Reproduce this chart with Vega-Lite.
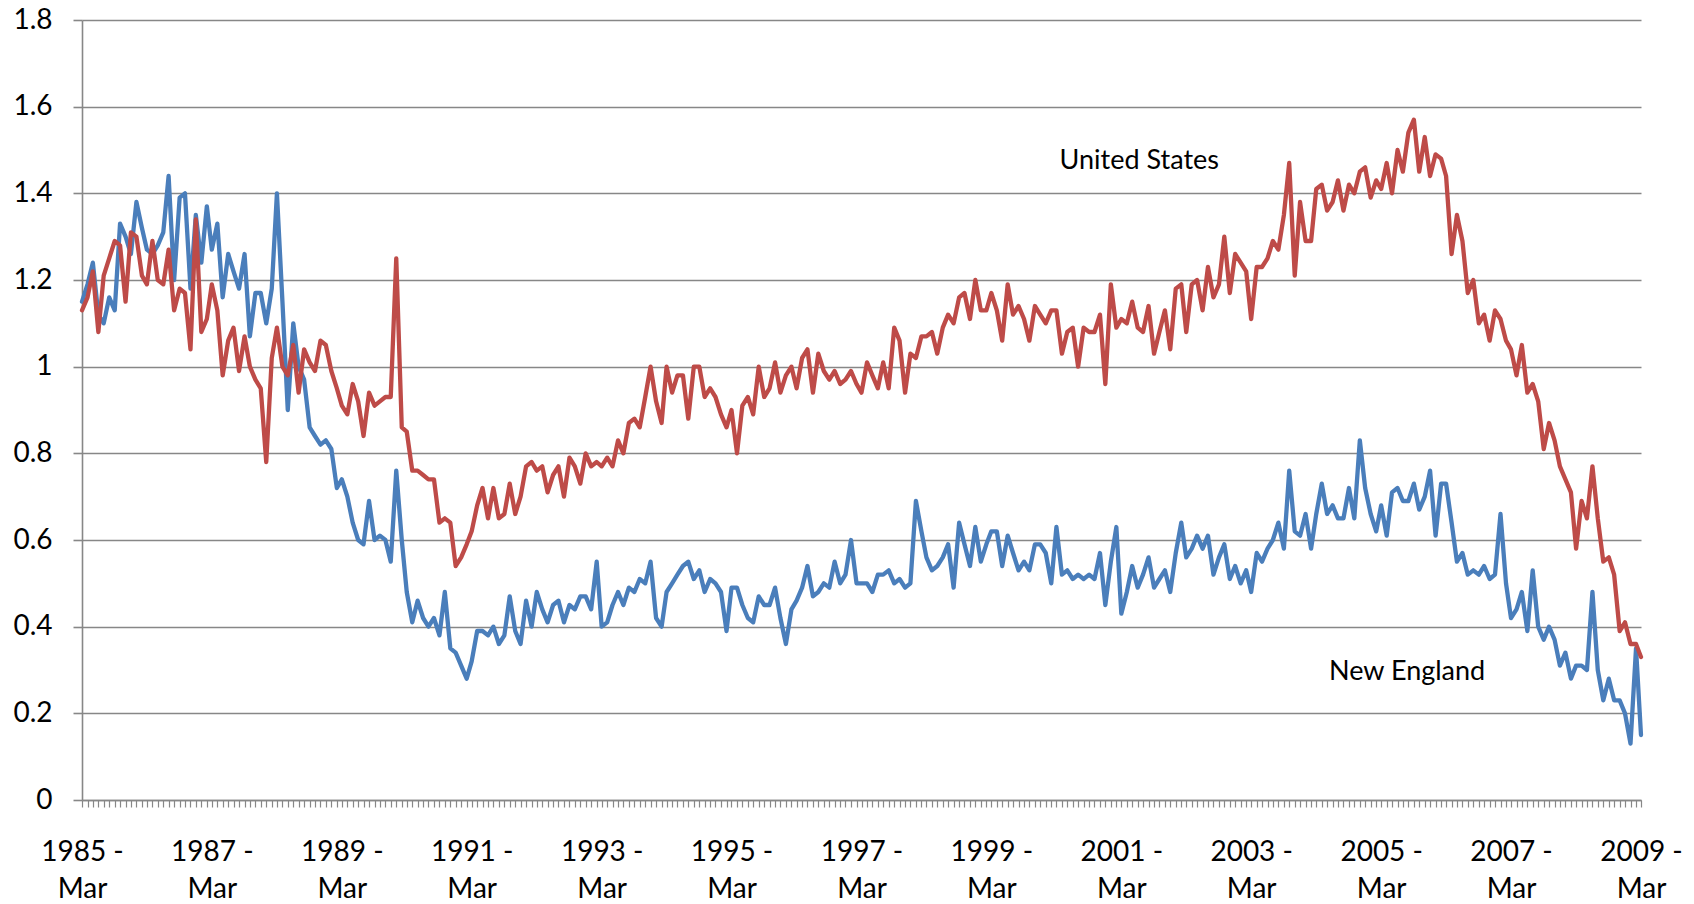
{
  "$schema": "https://vega.github.io/schema/vega-lite/v6.json",
  "width": 1559,
  "height": 780,
  "autosize": {"type": "none"},
  "padding": {"left": 82, "top": 20, "right": 53, "bottom": 104},
  "background": "white",
  "config": {"view": {"stroke": null}, "font": "Lato"},
  "datasets": {
    "main": [
      {"d":"1985-03-01","ne":1.15,"us":1.13},{"d":"1985-04-01","ne":1.19,"us":1.16},{"d":"1985-05-01","ne":1.24,"us":1.22},{"d":"1985-06-01","ne":1.12,"us":1.08},{"d":"1985-07-01","ne":1.10,"us":1.21},{"d":"1985-08-01","ne":1.16,"us":1.25},{"d":"1985-09-01","ne":1.13,"us":1.29},{"d":"1985-10-01","ne":1.33,"us":1.28},{"d":"1985-11-01","ne":1.30,"us":1.15},{"d":"1985-12-01","ne":1.26,"us":1.31},
      {"d":"1986-01-01","ne":1.38,"us":1.30},{"d":"1986-02-01","ne":1.32,"us":1.21},{"d":"1986-03-01","ne":1.27,"us":1.19},{"d":"1986-04-01","ne":1.26,"us":1.29},{"d":"1986-05-01","ne":1.28,"us":1.20},{"d":"1986-06-01","ne":1.31,"us":1.19},{"d":"1986-07-01","ne":1.44,"us":1.27},{"d":"1986-08-01","ne":1.20,"us":1.13},{"d":"1986-09-01","ne":1.39,"us":1.18},{"d":"1986-10-01","ne":1.40,"us":1.17},{"d":"1986-11-01","ne":1.18,"us":1.04},{"d":"1986-12-01","ne":1.35,"us":1.34},
      {"d":"1987-01-01","ne":1.24,"us":1.08},{"d":"1987-02-01","ne":1.37,"us":1.11},{"d":"1987-03-01","ne":1.27,"us":1.19},{"d":"1987-04-01","ne":1.33,"us":1.13},{"d":"1987-05-01","ne":1.16,"us":0.98},{"d":"1987-06-01","ne":1.26,"us":1.06},{"d":"1987-07-01","ne":1.22,"us":1.09},{"d":"1987-08-01","ne":1.18,"us":0.99},{"d":"1987-09-01","ne":1.26,"us":1.07},{"d":"1987-10-01","ne":1.07,"us":1.00},{"d":"1987-11-01","ne":1.17,"us":0.97},{"d":"1987-12-01","ne":1.17,"us":0.95},
      {"d":"1988-01-01","ne":1.10,"us":0.78},{"d":"1988-02-01","ne":1.18,"us":1.02},{"d":"1988-03-01","ne":1.40,"us":1.09},{"d":"1988-04-01","ne":1.15,"us":1.00},{"d":"1988-05-01","ne":0.90,"us":0.98},{"d":"1988-06-01","ne":1.10,"us":1.05},{"d":"1988-07-01","ne":1.00,"us":0.94},{"d":"1988-08-01","ne":0.97,"us":1.04},{"d":"1988-09-01","ne":0.86,"us":1.01},{"d":"1988-10-01","ne":0.84,"us":0.99},{"d":"1988-11-01","ne":0.82,"us":1.06},{"d":"1988-12-01","ne":0.83,"us":1.05},
      {"d":"1989-01-01","ne":0.81,"us":0.99},{"d":"1989-02-01","ne":0.72,"us":0.95},{"d":"1989-03-01","ne":0.74,"us":0.91},{"d":"1989-04-01","ne":0.70,"us":0.89},{"d":"1989-05-01","ne":0.64,"us":0.96},{"d":"1989-06-01","ne":0.60,"us":0.92},{"d":"1989-07-01","ne":0.59,"us":0.84},{"d":"1989-08-01","ne":0.69,"us":0.94},{"d":"1989-09-01","ne":0.60,"us":0.91},{"d":"1989-10-01","ne":0.61,"us":0.92},{"d":"1989-11-01","ne":0.60,"us":0.93},{"d":"1989-12-01","ne":0.55,"us":0.93},
      {"d":"1990-01-01","ne":0.76,"us":1.25},{"d":"1990-02-01","ne":0.60,"us":0.86},{"d":"1990-03-01","ne":0.48,"us":0.85},{"d":"1990-04-01","ne":0.41,"us":0.76},{"d":"1990-05-01","ne":0.46,"us":0.76},{"d":"1990-06-01","ne":0.42,"us":0.75},{"d":"1990-07-01","ne":0.40,"us":0.74},{"d":"1990-08-01","ne":0.42,"us":0.74},{"d":"1990-09-01","ne":0.38,"us":0.64},{"d":"1990-10-01","ne":0.48,"us":0.65},{"d":"1990-11-01","ne":0.35,"us":0.64},{"d":"1990-12-01","ne":0.34,"us":0.54},
      {"d":"1991-01-01","ne":0.31,"us":0.56},{"d":"1991-02-01","ne":0.28,"us":0.59},{"d":"1991-03-01","ne":0.32,"us":0.62},{"d":"1991-04-01","ne":0.39,"us":0.68},{"d":"1991-05-01","ne":0.39,"us":0.72},{"d":"1991-06-01","ne":0.38,"us":0.65},{"d":"1991-07-01","ne":0.40,"us":0.72},{"d":"1991-08-01","ne":0.36,"us":0.65},{"d":"1991-09-01","ne":0.38,"us":0.66},{"d":"1991-10-01","ne":0.47,"us":0.73},{"d":"1991-11-01","ne":0.39,"us":0.66},{"d":"1991-12-01","ne":0.36,"us":0.70},
      {"d":"1992-01-01","ne":0.46,"us":0.77},{"d":"1992-02-01","ne":0.40,"us":0.78},{"d":"1992-03-01","ne":0.48,"us":0.76},{"d":"1992-04-01","ne":0.44,"us":0.77},{"d":"1992-05-01","ne":0.41,"us":0.71},{"d":"1992-06-01","ne":0.45,"us":0.75},{"d":"1992-07-01","ne":0.46,"us":0.77},{"d":"1992-08-01","ne":0.41,"us":0.70},{"d":"1992-09-01","ne":0.45,"us":0.79},{"d":"1992-10-01","ne":0.44,"us":0.77},{"d":"1992-11-01","ne":0.47,"us":0.73},{"d":"1992-12-01","ne":0.47,"us":0.80},
      {"d":"1993-01-01","ne":0.44,"us":0.77},{"d":"1993-02-01","ne":0.55,"us":0.78},{"d":"1993-03-01","ne":0.40,"us":0.77},{"d":"1993-04-01","ne":0.41,"us":0.79},{"d":"1993-05-01","ne":0.45,"us":0.77},{"d":"1993-06-01","ne":0.48,"us":0.83},{"d":"1993-07-01","ne":0.45,"us":0.80},{"d":"1993-08-01","ne":0.49,"us":0.87},{"d":"1993-09-01","ne":0.48,"us":0.88},{"d":"1993-10-01","ne":0.51,"us":0.86},{"d":"1993-11-01","ne":0.50,"us":0.93},{"d":"1993-12-01","ne":0.55,"us":1.00},
      {"d":"1994-01-01","ne":0.42,"us":0.92},{"d":"1994-02-01","ne":0.40,"us":0.87},{"d":"1994-03-01","ne":0.48,"us":1.00},{"d":"1994-04-01","ne":0.50,"us":0.94},{"d":"1994-05-01","ne":0.52,"us":0.98},{"d":"1994-06-01","ne":0.54,"us":0.98},{"d":"1994-07-01","ne":0.55,"us":0.88},{"d":"1994-08-01","ne":0.51,"us":1.00},{"d":"1994-09-01","ne":0.53,"us":1.00},{"d":"1994-10-01","ne":0.48,"us":0.93},{"d":"1994-11-01","ne":0.51,"us":0.95},{"d":"1994-12-01","ne":0.50,"us":0.93},
      {"d":"1995-01-01","ne":0.48,"us":0.89},{"d":"1995-02-01","ne":0.39,"us":0.86},{"d":"1995-03-01","ne":0.49,"us":0.90},{"d":"1995-04-01","ne":0.49,"us":0.80},{"d":"1995-05-01","ne":0.45,"us":0.91},{"d":"1995-06-01","ne":0.42,"us":0.93},{"d":"1995-07-01","ne":0.41,"us":0.89},{"d":"1995-08-01","ne":0.47,"us":1.00},{"d":"1995-09-01","ne":0.45,"us":0.93},{"d":"1995-10-01","ne":0.45,"us":0.95},{"d":"1995-11-01","ne":0.49,"us":1.01},{"d":"1995-12-01","ne":0.42,"us":0.94},
      {"d":"1996-01-01","ne":0.36,"us":0.98},{"d":"1996-02-01","ne":0.44,"us":1.00},{"d":"1996-03-01","ne":0.46,"us":0.95},{"d":"1996-04-01","ne":0.49,"us":1.02},{"d":"1996-05-01","ne":0.54,"us":1.04},{"d":"1996-06-01","ne":0.47,"us":0.94},{"d":"1996-07-01","ne":0.48,"us":1.03},{"d":"1996-08-01","ne":0.50,"us":0.99},{"d":"1996-09-01","ne":0.49,"us":0.97},{"d":"1996-10-01","ne":0.55,"us":0.99},{"d":"1996-11-01","ne":0.50,"us":0.96},{"d":"1996-12-01","ne":0.52,"us":0.97},
      {"d":"1997-01-01","ne":0.60,"us":0.99},{"d":"1997-02-01","ne":0.50,"us":0.96},{"d":"1997-03-01","ne":0.50,"us":0.94},{"d":"1997-04-01","ne":0.50,"us":1.01},{"d":"1997-05-01","ne":0.48,"us":0.98},{"d":"1997-06-01","ne":0.52,"us":0.95},{"d":"1997-07-01","ne":0.52,"us":1.01},{"d":"1997-08-01","ne":0.53,"us":0.95},{"d":"1997-09-01","ne":0.50,"us":1.09},{"d":"1997-10-01","ne":0.51,"us":1.06},{"d":"1997-11-01","ne":0.49,"us":0.94},{"d":"1997-12-01","ne":0.50,"us":1.03},
      {"d":"1998-01-01","ne":0.69,"us":1.02},{"d":"1998-02-01","ne":0.62,"us":1.07},{"d":"1998-03-01","ne":0.56,"us":1.07},{"d":"1998-04-01","ne":0.53,"us":1.08},{"d":"1998-05-01","ne":0.54,"us":1.03},{"d":"1998-06-01","ne":0.56,"us":1.09},{"d":"1998-07-01","ne":0.59,"us":1.12},{"d":"1998-08-01","ne":0.49,"us":1.10},{"d":"1998-09-01","ne":0.64,"us":1.16},{"d":"1998-10-01","ne":0.59,"us":1.17},{"d":"1998-11-01","ne":0.54,"us":1.11},{"d":"1998-12-01","ne":0.63,"us":1.20},
      {"d":"1999-01-01","ne":0.55,"us":1.13},{"d":"1999-02-01","ne":0.59,"us":1.13},{"d":"1999-03-01","ne":0.62,"us":1.17},{"d":"1999-04-01","ne":0.62,"us":1.13},{"d":"1999-05-01","ne":0.54,"us":1.06},{"d":"1999-06-01","ne":0.61,"us":1.19},{"d":"1999-07-01","ne":0.57,"us":1.12},{"d":"1999-08-01","ne":0.53,"us":1.14},{"d":"1999-09-01","ne":0.55,"us":1.11},{"d":"1999-10-01","ne":0.53,"us":1.06},{"d":"1999-11-01","ne":0.59,"us":1.14},{"d":"1999-12-01","ne":0.59,"us":1.12},
      {"d":"2000-01-01","ne":0.57,"us":1.10},{"d":"2000-02-01","ne":0.50,"us":1.13},{"d":"2000-03-01","ne":0.63,"us":1.13},{"d":"2000-04-01","ne":0.52,"us":1.03},{"d":"2000-05-01","ne":0.53,"us":1.08},{"d":"2000-06-01","ne":0.51,"us":1.09},{"d":"2000-07-01","ne":0.52,"us":1.00},{"d":"2000-08-01","ne":0.51,"us":1.09},{"d":"2000-09-01","ne":0.52,"us":1.08},{"d":"2000-10-01","ne":0.51,"us":1.08},{"d":"2000-11-01","ne":0.57,"us":1.12},{"d":"2000-12-01","ne":0.45,"us":0.96},
      {"d":"2001-01-01","ne":0.55,"us":1.19},{"d":"2001-02-01","ne":0.63,"us":1.09},{"d":"2001-03-01","ne":0.43,"us":1.11},{"d":"2001-04-01","ne":0.48,"us":1.10},{"d":"2001-05-01","ne":0.54,"us":1.15},{"d":"2001-06-01","ne":0.49,"us":1.09},{"d":"2001-07-01","ne":0.52,"us":1.08},{"d":"2001-08-01","ne":0.56,"us":1.14},{"d":"2001-09-01","ne":0.49,"us":1.03},{"d":"2001-10-01","ne":0.51,"us":1.08},{"d":"2001-11-01","ne":0.53,"us":1.13},{"d":"2001-12-01","ne":0.48,"us":1.04},
      {"d":"2002-01-01","ne":0.57,"us":1.18},{"d":"2002-02-01","ne":0.64,"us":1.19},{"d":"2002-03-01","ne":0.56,"us":1.08},{"d":"2002-04-01","ne":0.58,"us":1.19},{"d":"2002-05-01","ne":0.61,"us":1.20},{"d":"2002-06-01","ne":0.58,"us":1.13},{"d":"2002-07-01","ne":0.61,"us":1.23},{"d":"2002-08-01","ne":0.52,"us":1.16},{"d":"2002-09-01","ne":0.56,"us":1.19},{"d":"2002-10-01","ne":0.59,"us":1.30},{"d":"2002-11-01","ne":0.51,"us":1.17},{"d":"2002-12-01","ne":0.54,"us":1.26},
      {"d":"2003-01-01","ne":0.50,"us":1.24},{"d":"2003-02-01","ne":0.53,"us":1.22},{"d":"2003-03-01","ne":0.48,"us":1.11},{"d":"2003-04-01","ne":0.57,"us":1.23},{"d":"2003-05-01","ne":0.55,"us":1.23},{"d":"2003-06-01","ne":0.58,"us":1.25},{"d":"2003-07-01","ne":0.60,"us":1.29},{"d":"2003-08-01","ne":0.64,"us":1.27},{"d":"2003-09-01","ne":0.58,"us":1.35},{"d":"2003-10-01","ne":0.76,"us":1.47},{"d":"2003-11-01","ne":0.62,"us":1.21},{"d":"2003-12-01","ne":0.61,"us":1.38},
      {"d":"2004-01-01","ne":0.66,"us":1.29},{"d":"2004-02-01","ne":0.58,"us":1.29},{"d":"2004-03-01","ne":0.66,"us":1.41},{"d":"2004-04-01","ne":0.73,"us":1.42},{"d":"2004-05-01","ne":0.66,"us":1.36},{"d":"2004-06-01","ne":0.68,"us":1.38},{"d":"2004-07-01","ne":0.65,"us":1.43},{"d":"2004-08-01","ne":0.65,"us":1.36},{"d":"2004-09-01","ne":0.72,"us":1.42},{"d":"2004-10-01","ne":0.65,"us":1.40},{"d":"2004-11-01","ne":0.83,"us":1.45},{"d":"2004-12-01","ne":0.72,"us":1.46},
      {"d":"2005-01-01","ne":0.66,"us":1.39},{"d":"2005-02-01","ne":0.62,"us":1.43},{"d":"2005-03-01","ne":0.68,"us":1.41},{"d":"2005-04-01","ne":0.61,"us":1.47},{"d":"2005-05-01","ne":0.71,"us":1.40},{"d":"2005-06-01","ne":0.72,"us":1.50},{"d":"2005-07-01","ne":0.69,"us":1.45},{"d":"2005-08-01","ne":0.69,"us":1.54},{"d":"2005-09-01","ne":0.73,"us":1.57},{"d":"2005-10-01","ne":0.67,"us":1.45},{"d":"2005-11-01","ne":0.70,"us":1.53},{"d":"2005-12-01","ne":0.76,"us":1.44},
      {"d":"2006-01-01","ne":0.61,"us":1.49},{"d":"2006-02-01","ne":0.73,"us":1.48},{"d":"2006-03-01","ne":0.73,"us":1.44},{"d":"2006-04-01","ne":0.64,"us":1.26},{"d":"2006-05-01","ne":0.55,"us":1.35},{"d":"2006-06-01","ne":0.57,"us":1.29},{"d":"2006-07-01","ne":0.52,"us":1.17},{"d":"2006-08-01","ne":0.53,"us":1.20},{"d":"2006-09-01","ne":0.52,"us":1.10},{"d":"2006-10-01","ne":0.54,"us":1.12},{"d":"2006-11-01","ne":0.51,"us":1.06},{"d":"2006-12-01","ne":0.52,"us":1.13},
      {"d":"2007-01-01","ne":0.66,"us":1.11},{"d":"2007-02-01","ne":0.50,"us":1.06},{"d":"2007-03-01","ne":0.42,"us":1.04},{"d":"2007-04-01","ne":0.44,"us":0.98},{"d":"2007-05-01","ne":0.48,"us":1.05},{"d":"2007-06-01","ne":0.39,"us":0.94},{"d":"2007-07-01","ne":0.53,"us":0.96},{"d":"2007-08-01","ne":0.40,"us":0.92},{"d":"2007-09-01","ne":0.37,"us":0.81},{"d":"2007-10-01","ne":0.40,"us":0.87},{"d":"2007-11-01","ne":0.37,"us":0.83},{"d":"2007-12-01","ne":0.31,"us":0.77},
      {"d":"2008-01-01","ne":0.34,"us":0.74},{"d":"2008-02-01","ne":0.28,"us":0.71},{"d":"2008-03-01","ne":0.31,"us":0.58},{"d":"2008-04-01","ne":0.31,"us":0.69},{"d":"2008-05-01","ne":0.30,"us":0.65},{"d":"2008-06-01","ne":0.48,"us":0.77},{"d":"2008-07-01","ne":0.30,"us":0.65},{"d":"2008-08-01","ne":0.23,"us":0.55},{"d":"2008-09-01","ne":0.28,"us":0.56},{"d":"2008-10-01","ne":0.23,"us":0.52},{"d":"2008-11-01","ne":0.23,"us":0.39},{"d":"2008-12-01","ne":0.20,"us":0.41},
      {"d":"2009-01-01","ne":0.13,"us":0.36},{"d":"2009-02-01","ne":0.35,"us":0.36},{"d":"2009-03-01","ne":0.15,"us":0.33}
    ],
    "labels": [
      {"d":"2001-06-10","v":1.475,"label":"United States"},
      {"d":"2005-07-25","v":0.296,"label":"New England"}
    ]
  },
  "layer": [
    {
      "data": {"name": "main"},
      "mark": {"type": "line", "color": "#4a7ebb", "strokeWidth": 4.3, "strokeJoin": "round", "strokeCap": "round"},
      "encoding": {
        "x": {
          "field": "d", "type": "temporal",
          "scale": {"type": "utc", "domain": [{"year": 1985, "month": 3, "date": 1, "utc": true}, {"year": 2009, "month": 3, "date": 1, "utc": true}], "nice": false},
          "axis": {
            "title": null, "grid": false,
            "tickCount": {"interval": "month", "step": 1},
            "labelExpr": "utcmonth(datum.value) == 2 && utcyear(datum.value) % 2 == 1 ? [utcFormat(datum.value, '%Y -'), utcFormat(datum.value, '%b')] : ''",
            "labelOverlap": false, "labelFlush": false, "labelBound": false,
            "labelFont": "Lato", "labelFontSize": 28, "labelColor": "#000000",
            "labelPadding": 31, "labelLineHeight": 37,
            "domainColor": "#878787", "domainWidth": 1.6,
            "tickColor": "#878787", "tickWidth": 1.2, "tickSize": 7
          }
        },
        "y": {
          "field": "ne", "type": "quantitative",
          "scale": {"domain": [0, 1.8], "nice": false},
          "axis": {
            "title": null,
            "values": [0, 0.2, 0.4, 0.6, 0.8, 1.0, 1.2, 1.4, 1.6, 1.8],
            "format": ".1~f",
            "grid": true, "gridColor": "#878787", "gridWidth": 1.6,
            "domainColor": "#878787", "domainWidth": 1.6,
            "tickColor": "#878787", "tickWidth": 1.6, "tickSize": 9,
            "labelFont": "Lato", "labelFontSize": 28, "labelColor": "#000000",
            "labelPadding": 21
          }
        }
      }
    },
    {
      "data": {"name": "main"},
      "mark": {"type": "line", "color": "#be4b48", "strokeWidth": 4.3, "strokeJoin": "round", "strokeCap": "round"},
      "encoding": {
        "x": {"field": "d", "type": "temporal"},
        "y": {"field": "us", "type": "quantitative"}
      }
    },
    {
      "data": {"name": "labels"},
      "mark": {"type": "text", "font": "Lato", "fontSize": 27, "align": "center", "baseline": "middle", "color": "#000000"},
      "encoding": {
        "x": {"field": "d", "type": "temporal"},
        "y": {"field": "v", "type": "quantitative"},
        "text": {"field": "label"}
      }
    }
  ]
}
